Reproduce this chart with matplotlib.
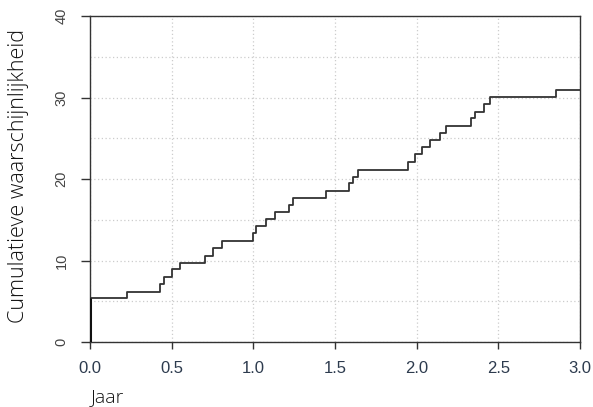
import matplotlib
matplotlib.use("Agg")
import matplotlib.pyplot as plt
import numpy as np

# step times (jaar) and cumulative probability after each step
times = [0.0, 0.227, 0.43, 0.453, 0.50, 0.55, 0.705, 0.755, 0.81, 1.0, 1.015,
         1.08, 1.13, 1.22, 1.245, 1.445, 1.586, 1.61, 1.64, 1.95, 1.99, 2.03,
         2.08, 2.14, 2.18, 2.33, 2.36, 2.41, 2.45, 2.85]
values = [5.4, 6.1, 7.1, 8.0, 9.0, 9.7, 10.6, 11.5, 12.4, 13.4, 14.2,
          15.1, 16.0, 16.8, 17.7, 18.5, 19.5, 20.3, 21.1, 22.1, 23.1, 23.9,
          24.8, 25.6, 26.5, 27.5, 28.2, 29.2, 30.1, 30.9]
x_end = 3.0

x_ticks = [0.0, 0.5, 1.0, 1.5, 2.0, 2.5, 3.0]
y_ticks = [0, 10, 20, 30, 40]

fig = plt.figure(figsize=(5.93, 4.07), dpi=100)
ax = fig.add_axes([90 / 593, 65 / 407, 490 / 593, 326 / 407])

xs = np.concatenate([[times[0]], times, [x_end]])
ys = np.concatenate([[0], values, [values[-1]]])
ax.step(xs, ys, where="post", color="#333333", lw=1.3, zorder=3)
ax.vlines(times[0], 0, values[0], color="#111111", lw=2.2, zorder=4)

ax.set_xlim(0, 3.0)
ax.set_ylim(0, 40)
ax.set_xticks(x_ticks)
ax.set_xticklabels([f"{t:.1f}" for t in x_ticks], fontfamily="Liberation Sans",
                   fontsize=12, color="#2d3b4e")
ax.set_yticks(y_ticks)
ax.set_yticklabels([str(v) for v in y_ticks], fontfamily="Liberation Sans",
                   fontsize=10.5, color="#444444", rotation=90, va="center")

ax.set_yticks(np.arange(5, 40, 5), minor=True)
ax.tick_params(axis="y", which="minor", length=0)
ax.tick_params(axis="x", length=5, width=1, pad=9, color="#333333")
ax.tick_params(axis="y", which="major", length=6.5, width=1, pad=9, color="#333333")

ax.grid(True, which="both", color="#cccccc", ls=(0, (1, 2)), lw=0.9)
ax.set_axisbelow(True)
for s in ax.spines.values():
    s.set_color("#333333")
    s.set_linewidth(1.0)

fig.text(19 / 593, (407 - 176) / 407, "Cumulatieve waarschijnlijkheid", rotation=90,
         ha="center", va="center", fontfamily="Open Sans", fontsize=15.5,
         fontweight="light", color="#111111")
fig.text(91 / 593, 5 / 407, "Jaar", ha="left", va="baseline",
         fontfamily="Open Sans", fontsize=14, fontweight="light", color="#111111")

fig.savefig("out.png", dpi=100)
